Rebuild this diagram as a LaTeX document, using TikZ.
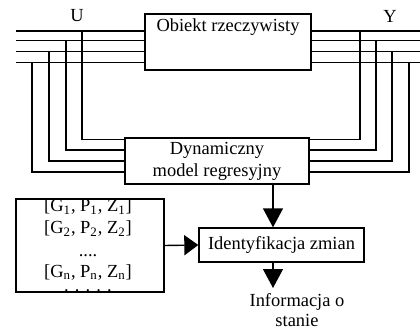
\documentclass[tikz,border=0pt]{standalone}
\usepackage{fontspec}
\setmainfont{Liberation Serif}
\usetikzlibrary{arrows.meta}

\tikzset{
  box/.style={draw, line width=0.8pt, inner sep=0pt},
  bus/.style={line width=0.8pt},
  downarrow/.style={line width=0.8pt, -{Triangle[width=0.4cm,length=0.38cm]}},
  sidearrow/.style={line width=0.8pt, -{Triangle[width=0.4cm,length=0.28cm]}}
}

\begin{document}
\begin{tikzpicture}[x=0.02cm, y=-0.02cm, font=\fontsize{10.5pt}{12.4pt}\selectfont]
\useasboundingbox (0,0) rectangle (420,328);

% blocks
\node[box, minimum width=3.32cm, minimum height=1.12cm,
  label={[anchor=north, inner sep=3pt]north:Obiekt rzeczywisty}] (obiekt) at (228,42) {};
\node[box, minimum width=3.68cm, minimum height=0.92cm, align=center] (model) at (217,161) {Dynamiczny\\model regresyjny};
\node[box, minimum width=3.3cm, minimum height=0.68cm] (ident) at (281.5,245) {Identyfikacja zmian};
\node[box, minimum width=2.96cm, minimum height=1.86cm] (lista) at (90,245.5) {};

\node (u) at (77,16) {U};
\node (y) at (390,16) {Y};

% input bus
\foreach \y/\x/\yy in {31/82/139.5, 40.5/66/150, 51.5/49/161, 62.5/32/172}
{
  \draw[bus] (16,\y) -- (obiekt.west |- 0,\y);
  \draw[bus] (\x,\y) -- (\x,\yy) -- (model.west |- 0,\yy);
}
% output bus
\foreach \y/\x/\yy in {31/360/139.5, 40.5/376/150, 51.5/392/161, 62.5/409/172}
{
  \draw[bus] (obiekt.east |- 0,\y) -- (420,\y);
  \draw[bus] (\x,\y) -- (\x,\yy) -- (model.east |- 0,\yy);
}

% list of states
\begin{scope}
\clip (lista.south west) rectangle (lista.north east);
\node[align=center, anchor=north, inner sep=0pt] (listatxt) at (88,198.5)
  {{[}G\textsubscript{1}, P\textsubscript{1}, Z\textsubscript{1}]\\
   {[}G\textsubscript{2}, P\textsubscript{2}, Z\textsubscript{2}]\\[1pt]
   ....\\[-1pt]
   {[}G\textsubscript{n}, P\textsubscript{n}, Z\textsubscript{n}]\\[-4pt]
   . . . . .};
\end{scope}

% arrows
\coordinate (tip) at (273,288);
\draw[downarrow] (model.south -| tip) -- (ident.north -| tip);
\draw[downarrow] (ident.south -| tip) -- (tip);
\draw[sidearrow] (lista.east) -- (ident.west);

\node[align=center, inner sep=1pt, font=\fontsize{10.5pt}{11.4pt}\selectfont] (info) at (297,310.5) {Informacja o\\stanie};
\end{tikzpicture}
\end{document}
